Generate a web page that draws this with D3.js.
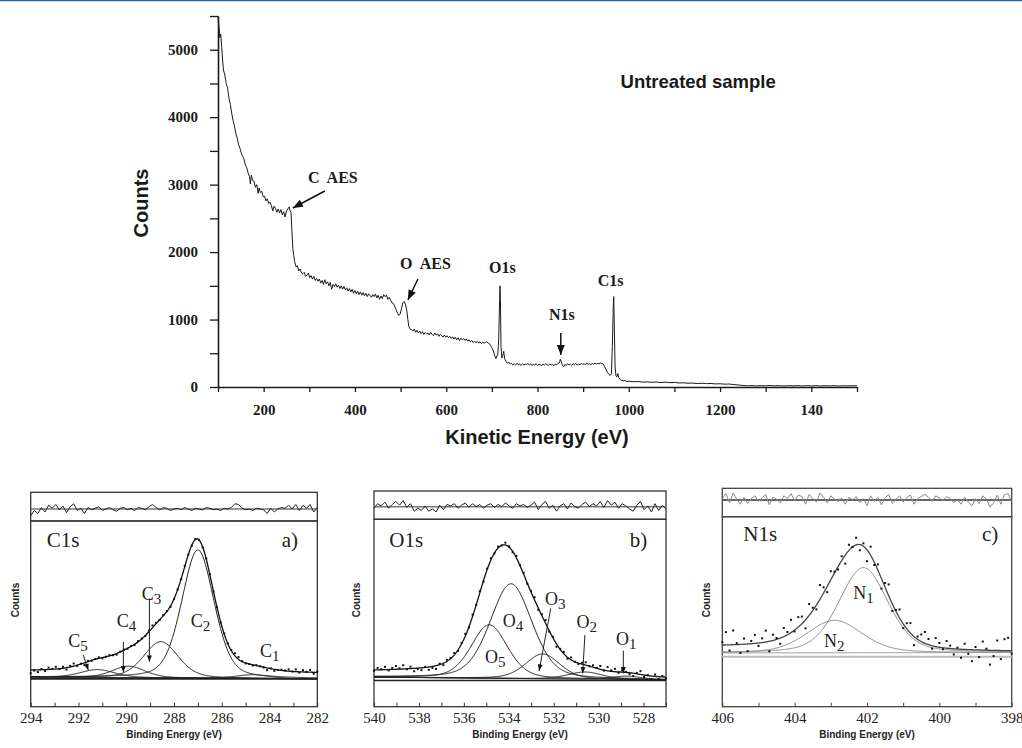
<!DOCTYPE html>
<html>
<head>
<meta charset="utf-8">
<script src="https://cdn.jsdelivr.net/npm/d3@7"></script>
<style>
  body { margin: 0; background: #fff; }
  svg { display: block; }
</style>
</head>
<body>
<svg id="chart" width="1022" height="748"></svg>
<script>
// ---- survey spectrum (kinetic energy, counts) ----
const surveyPoints = [
  [100,5500],[102,5350],[104,5180],[106,5230],[108,5050],[110,4850],[112,4700],[115,4620],[118,4500],[121,4430],
  [124,4280],[127,4190],[130,4060],[133,3950],[136,3870],[139,3760],[142,3690],[145,3600],[148,3540],[151,3470],
  [154,3420],[157,3380],[160,3290],[163,3250],[166,3170],[169,3120],[171,3010],[173,3140],[176,3060],[179,3050],
  [182,2960],[185,3000],[188,2870],[190,2950],[193,2880],[196,2900],[199,2820],[202,2830],[205,2760],[208,2790],
  [211,2720],[214,2740],[217,2690],[220,2610],[223,2680],[226,2650],[229,2590],[232,2640],[235,2580],[238,2630],
  [241,2550],[244,2600],[247,2520],[250,2610],[253,2640],[256,2670],[258,2610],[260,2590],[262,2300],[264,2050],
  [266,1950],[268,1860],[271,1780],[274,1800],[277,1720],[280,1750],[283,1690],[286,1680],[289,1700],[292,1640],
  [295,1660],[298,1690],[301,1620],[304,1650],[307,1600],[310,1640],[313,1580],[316,1610],[319,1570],[322,1600],
  [325,1540],[328,1580],[331,1520],[334,1590],[337,1530],[340,1560],[343,1500],[346,1550],[349,1450],[352,1520],
  [355,1490],[358,1530],[361,1480],[364,1510],[367,1460],[370,1500],[373,1450],[376,1490],[379,1440],[382,1470],
  [385,1420],[388,1460],[391,1410],[394,1450],[397,1390],[400,1430],[403,1380],[406,1420],[409,1370],[412,1410],
  [415,1360],[418,1400],[421,1350],[424,1390],[427,1340],[430,1380],[433,1360],[436,1330],[439,1370],[442,1340],
  [445,1380],[448,1320],[451,1360],[454,1300],[457,1350],[460,1310],[463,1370],[466,1340],[469,1360],[472,1300],
  [475,1330],[478,1290],[481,1250],[484,1240],[487,1200],[490,1150],[493,1100],[496,1060],[499,1080],[502,1160],
  [505,1250],[508,1270],[511,1220],[514,1120],[516,1000],[518,900],[521,860],[524,850],[527,830],[530,860],
  [533,810],[536,840],[539,800],[542,830],[545,790],[548,820],[551,780],[554,810],[557,790],[560,800],
  [563,770],[566,810],[569,780],[572,760],[575,800],[578,770],[581,790],[584,750],[587,780],[590,760],
  [593,740],[596,770],[599,740],[602,760],[605,730],[608,750],[611,720],[614,745],[617,710],[620,740],
  [623,700],[626,730],[629,690],[632,725],[635,700],[638,720],[641,690],[644,710],[647,680],[650,700],
  [653,670],[656,690],[659,660],[662,680],[665,655],[668,675],[671,650],[674,670],[677,645],[680,665],
  [683,650],[686,660],[689,670],[692,650],[695,640],[698,610],[701,570],[704,520],[707,450],[709,420],
  [711,460],[713,480],[715,700],[717,1300],[718,1500],[719,1200],[720,600],[722,430],[724,470],[726,530],
  [728,420],[731,380],[734,350],[737,370],[740,340],[743,350],[746,330],[749,345],[752,325],[755,350],
  [758,330],[761,340],[764,320],[767,345],[770,325],[773,340],[776,330],[779,350],[782,325],[785,340],
  [788,320],[791,335],[794,325],[797,345],[800,320],[803,340],[806,330],[809,315],[812,340],[815,325],
  [818,345],[821,330],[824,320],[827,340],[830,325],[833,335],[836,315],[839,340],[842,330],[845,350],
  [848,360],[850,410],[852,380],[854,330],[857,300],[860,335],[863,320],[866,345],[869,325],[872,340],
  [875,320],[878,345],[881,330],[884,350],[887,325],[890,340],[893,330],[896,350],[899,335],[902,345],
  [905,330],[908,355],[911,335],[914,345],[917,330],[920,350],[923,340],[926,355],[929,340],[932,350],
  [935,345],[938,355],[941,350],[944,340],[947,300],[950,260],[953,220],[956,190],[959,170],[962,200],
  [964,600],[966,1200],[967,1340],[968,1000],[970,300],[972,160],[974,150],[976,200],[978,140],[981,110],
  [984,100],[988,90],[992,95],[996,80],[1000,85],[1010,78],[1020,82],[1030,72],[1040,76],[1050,70],
  [1060,74],[1070,66],[1080,72],[1090,64],[1100,68],[1110,60],[1120,62],[1130,56],[1140,58],[1150,52],
  [1160,55],[1170,50],[1180,52],[1190,46],[1200,48],[1210,42],[1220,44],[1230,36],[1240,30],[1250,22],
  [1260,18],[1270,20],[1280,16],[1290,20],[1300,18],[1310,22],[1320,16],[1330,20],[1340,15],[1350,20],
  [1360,17],[1370,21],[1380,15],[1390,19],[1400,16],[1410,20],[1420,15],[1430,19],[1440,16],[1450,20],
  [1460,15],[1470,18],[1480,16],[1490,19],[1500,17]
];
const surveyXTicks = [100,200,300,400,500,600,700,800,900,1000,1100,1200,1300,1400,1500];
const surveyXLabels = {200:"200",400:"400",600:"600",800:"800",1000:"1000",1200:"1200",1400:"140"};
const surveyYTicks = [0,500,1000,1500,2000,2500,3000,3500,4000,4500,5000,5500];
const surveyYLabels = [0,1000,2000,3000,4000,5000];
// annotation text, anchor [energy, counts]
const surveyNotes = [
  {text: "C  AES", at: [297, 3017]},
  {text: "O  AES", at: [499, 1749]},
  {text: "O1s", at: [694, 1683]},
  {text: "N1s", at: [825, 993]},
  {text: "C1s", at: [932, 1497]}
];
const surveyArrows = [
  [[334, 2906], [264, 2654]],
  [[538, 1601], [516, 1290]],
  [[851, 800], [851, 474]]
];

// ---- C1s fit (binding energy) ----
const c1sNames = ["1", "2", "3", "4", "5"];
const c1sCenters = [284.7, 287.0, 288.55, 289.9, 291.2];
const c1sHeights = [20, 690, 195, 62, 42];
const c1sFwhm = [1.6, 1.6, 1.7, 1.6, 1.7];
const c1sResidual = [-0.45,-0.1,-0.3,0.1,-0.2,0.25,0.05,0.3,-0.05,0.2,-0.25,0.15,0.35,-0.1,0.05,-0.3,0.1,-0.05,0.05,0.15,
  -0.1,0.0,0.1,-0.05,-0.15,0.05,0.1,-0.05,0.05,-0.1,0.1,0.05,-0.05,0.15,0.3,0.1,-0.05,0.1,0.05,-0.1,
  0.0,0.05,-0.05,0.1,0.0,-0.1,0.05,0.0,-0.05,0.1,0.05,-0.05,0.0,-0.1,0.05,0.0,0.1,0.35,0.3,0.05,
  -0.05,0.0,-0.1,0.05,0.0,-0.05,-0.3,0.05,-0.2,0.0,0.1,0.05,0.25,0.0,0.3,-0.1,0.25,0.05,0.3,-0.2,0.1];

// ---- O1s fit ----
const o1sNames = ["1", "2", "3", "4", "5"];
const o1sCenters = [528.75, 530.6, 532.49, 533.9, 534.87];
const o1sHeights = [18, 38, 132, 505, 285];
const o1sFwhm = [1.6, 1.8, 1.8, 2.2, 1.9];
const o1sResidual = [-0.1,0.2,0.05,0.3,-0.1,0.15,0.35,0.1,0.4,-0.05,0.2,-0.3,-0.1,-0.25,0.05,-0.3,-0.15,-0.35,0.1,-0.2,
  0.15,0.05,0.2,-0.1,0.1,0.25,-0.05,0.2,0.0,0.15,-0.1,0.1,0.2,-0.05,0.15,0.0,0.25,0.05,-0.1,0.2,
  0.05,0.15,-0.05,0.1,0.3,-0.2,0.15,0.35,-0.1,0.1,-0.3,0.05,0.2,-0.15,0.25,0.0,-0.1,0.15,0.3,0.0,
  0.2,0.05,0.35,-0.05,0.4,0.1,0.3,-0.1,0.2,0.05,-0.15,-0.3,0.1,0.35,-0.2,0.05,-0.35,0.2,-0.25,0.1,-0.15];

// ---- N1s fit ----
const n1sNames = ["1", "2"];
const n1sCenters = [402.1, 402.9];
const n1sHeights = [448, 171];
const n1sFwhm = [1.6, 1.8];
const n1sResidual = [0.1,0.45,-0.2,0.5,0.05,-0.3,0.2,-0.25,0.1,0.3,-0.1,0.15,0.4,-0.35,0.2,0.05,-0.2,0.3,0.1,0.45,
  -0.05,0.35,0.25,-0.3,0.4,0.1,-0.15,0.5,0.2,-0.2,0.3,0.05,-0.1,0.15,-0.3,0.2,0.0,0.25,-0.2,0.1,
  -0.4,0.3,-0.1,0.2,-0.35,0.15,0.4,-0.25,0.05,0.3,-0.15,0.2,0.35,-0.3,0.1,0.25,0.4,0.2,-0.1,0.3,
  0.15,-0.05,0.25,0.1,-0.2,0.05,-0.3,0.2,-0.15,-0.4,0.1,-0.25,0.3,0.05,-0.5,-0.2,0.35,-0.3,0.4,0.45,-0.1];

const SERIF = '"Liberation Serif", "Times New Roman", serif';
const SANS = '"Liberation Sans", Arial, sans-serif';

const svg = d3.select("#chart");
const defs = svg.append("defs");

function addMarker(id, w, h, color) {
  defs.append("marker").attr("id", id)
    .attr("viewBox", "0 0 10 8").attr("refX", 10).attr("refY", 4)
    .attr("markerWidth", w).attr("markerHeight", h)
    .attr("markerUnits", "userSpaceOnUse").attr("orient", "auto")
    .append("path").attr("d", "M0,0L10,4L0,8Z").attr("fill", color);
}
addMarker("arrowBig", 11, 8, "#111");
addMarker("arrowSmall", 7, 5, "#111");

// thin blue rule at the very top
svg.append("line").attr("x1", 0).attr("x2", 1022).attr("y1", 0.5).attr("y2", 0.5)
  .attr("stroke", "#2a62a8").attr("stroke-width", 1.5);

// ================= survey =================
const sx = d3.scaleLinear().domain([100, 1500]).range([218, 857]);
const sy = d3.scaleLinear().domain([0, 5500]).range([387, 16]);

const survey = svg.append("g");

survey.append("path")
  .datum(surveyPoints)
  .attr("fill", "none").attr("stroke", "#1a1a1a").attr("stroke-width", 1)
  .attr("stroke-linejoin", "round")
  .attr("d", d3.line().x(d => sx(d[0])).y(d => sy(d[1])));

const sxAxis = survey.append("g").attr("transform", "translate(0,387)")
  .call(d3.axisBottom(sx).tickValues(surveyXTicks).tickSize(5).tickSizeOuter(0).tickPadding(12)
    .tickFormat(d => surveyXLabels[d] || ""));
const syAxis = survey.append("g").attr("transform", "translate(218,0)")
  .call(d3.axisLeft(sy).tickValues(surveyYTicks).tickSize(8).tickSizeOuter(0).tickPadding(12)
    .tickFormat(d => surveyYLabels.includes(d) ? d : ""));
[sxAxis, syAxis].forEach(a => {
  a.select(".domain").attr("stroke", "#1a1a1a").attr("stroke-width", 1.6);
  a.selectAll(".tick line").attr("stroke", "#1a1a1a").attr("stroke-width", 1.3);
  a.selectAll(".tick text").attr("font-family", SERIF).attr("font-weight", "bold")
    .attr("font-size", 15).attr("fill", "#1a1a1a");
});

survey.append("text").attr("transform", "translate(148,203) rotate(-90)")
  .attr("text-anchor", "middle").attr("font-family", SANS).attr("font-weight", "bold")
  .attr("font-size", 20).attr("fill", "#1a1a1a").text("Counts");
survey.append("text").attr("x", 537).attr("y", 444)
  .attr("text-anchor", "middle").attr("font-family", SANS).attr("font-weight", "bold")
  .attr("font-size", 20).attr("fill", "#1a1a1a").text("Kinetic Energy (eV)");
survey.append("text").attr("x", sx(1152)).attr("y", sy(4432))
  .attr("text-anchor", "middle").attr("font-family", SANS).attr("font-weight", "bold")
  .attr("font-size", 18.5).attr("fill", "#1a1a1a").text("Untreated sample");

survey.selectAll("text.note").data(surveyNotes).join("text")
  .attr("class", "note")
  .attr("x", d => sx(d.at[0])).attr("y", d => sy(d.at[1]))
  .attr("font-family", SERIF).attr("font-weight", "bold").attr("font-size", 16)
  .attr("fill", "#1a1a1a").style("white-space", "pre").text(d => d.text);

survey.selectAll("line.arrow").data(surveyArrows).join("line")
  .attr("class", "arrow")
  .attr("x1", d => sx(d[0][0])).attr("y1", d => sy(d[0][1]))
  .attr("x2", d => sx(d[1][0])).attr("y2", d => sy(d[1][1]))
  .attr("stroke", "#111").attr("stroke-width", 1.5).attr("marker-end", "url(#arrowBig)");

// ================= fitted core-level panels =================
function gl(e, c, h, w, m) {
  const d = e - c;
  return h * ((1 - m) * Math.exp(-4 * Math.LN2 * d * d / (w * w)) + m / (1 + 4 * d * d / (w * w)));
}

function drawPanel(cfg) {
  const g = svg.append("g");
  const x = d3.scaleLinear().domain(cfg.xDomain).range([cfg.left, cfg.right]);
  const y = d3.scaleLinear().domain(cfg.yDomain).range([cfg.bottom, cfg.mid]);
  const ry = d3.scaleLinear().domain([0, 1]).range([cfg.resZero, cfg.resZero - cfg.resUnit]);
  const hi = cfg.xDomain[0], lo = cfg.xDomain[1];

  const peakAt = (e, i) => gl(e, cfg.centers[i], cfg.heights[i], cfg.fwhm[i], cfg.mix);
  const sumAt = e => d3.sum(cfg.centers, (c, i) => peakAt(e, i));

  // Shirley-type background from cumulative peak area
  const fine = d3.range(0, 401).map(i => lo + (hi - lo) * i / 400);
  const cum = [];
  let acc = 0;
  fine.forEach((e, i) => {
    if (i) acc += (sumAt(e) + sumAt(fine[i - 1])) / 2;
    cum.push(acc);
  });
  const cumScale = d3.scaleLinear().domain(fine).range(cum);
  const bgAt = e => cfg.bgLow + (cfg.bgHigh - cfg.bgLow) * cumScale(e) / acc;
  const baseAt = d3.scaleLinear().domain([hi, lo]).range([cfg.baseHigh, cfg.baseLow]);
  const envAt = e => bgAt(e) + sumAt(e);

  // frames
  g.append("rect").attr("x", cfg.left).attr("y", cfg.top)
    .attr("width", cfg.right - cfg.left).attr("height", cfg.mid - cfg.top)
    .attr("fill", "none").attr("stroke", cfg.frame).attr("stroke-width", 1.3);
  g.append("rect").attr("x", cfg.left).attr("y", cfg.mid)
    .attr("width", cfg.right - cfg.left).attr("height", cfg.bottom - cfg.mid)
    .attr("fill", "none").attr("stroke", cfg.frame).attr("stroke-width", 1.3);

  // residuals
  const n = cfg.residual.length;
  const resE = cfg.residual.map((r, i) => hi - (hi - lo) * i / (n - 1));
  g.append("line").attr("x1", cfg.left).attr("x2", cfg.right)
    .attr("y1", cfg.resZero).attr("y2", cfg.resZero)
    .attr("stroke", cfg.resZeroColor).attr("stroke-width", 1.5);
  g.append("path").datum(cfg.residual)
    .attr("fill", "none").attr("stroke", cfg.resColor).attr("stroke-width", 1)
    .attr("d", d3.line().x((r, i) => x(resE[i])).y(r => ry(r)));

  // zero line of the fit
  g.append("line").attr("x1", cfg.left).attr("x2", cfg.right)
    .attr("y1", y(0)).attr("y2", y(0))
    .attr("stroke", cfg.zeroColor).attr("stroke-width", cfg.zeroWidth);
  g.append("path").datum(fine)
    .attr("fill", "none").attr("stroke", cfg.compColor).attr("stroke-width", 0.9)
    .attr("d", d3.line().x(e => x(e)).y(e => y(baseAt(e))));

  // components
  g.selectAll("path.comp").data(cfg.centers).join("path")
    .attr("class", "comp")
    .attr("fill", "none").attr("stroke", cfg.compColor).attr("stroke-width", 1)
    .attr("d", (c, i) => d3.line().x(e => x(e)).y(e => y(baseAt(e) + peakAt(e, i)))(fine));

  // envelope
  g.append("path").datum(fine)
    .attr("fill", "none").attr("stroke", cfg.envColor).attr("stroke-width", 1.3)
    .attr("d", d3.line().x(e => x(e)).y(e => y(envAt(e))));

  // measured points
  g.selectAll("rect.pt").data(cfg.residual).join("rect")
    .attr("class", "pt")
    .attr("x", (r, i) => x(resE[i]) - 1).attr("y", (r, i) => y(envAt(resE[i]) + r * cfg.dotScale) - 1)
    .attr("width", 2).attr("height", 2).attr("fill", "#111");

  // axis
  const ax = g.append("g").attr("transform", `translate(0,${cfg.bottom})`)
    .call(d3.axisBottom(x).tickValues(d3.range(lo, hi + 1, 1)).tickSize(-4).tickSizeOuter(0).tickPadding(6)
      .tickFormat(d => d % 2 === 0 ? d : ""));
  ax.select(".domain").remove();
  ax.selectAll(".tick line").attr("stroke", cfg.frame).attr("stroke-width", 1);
  ax.selectAll(".tick text").attr("font-family", SERIF).attr("font-size", 15).attr("fill", "#222");

  g.append("text").attr("x", (cfg.left + cfg.right) / 2).attr("y", 738)
    .attr("text-anchor", "middle").attr("font-family", SANS).attr("font-weight", "bold")
    .attr("font-size", 10).attr("fill", "#222").text("Binding Energy (eV)");
  g.append("text").attr("transform", `translate(${cfg.countsX},600) rotate(-90)`)
    .attr("text-anchor", "middle").attr("font-family", SANS).attr("font-weight", "bold")
    .attr("font-size", 10).attr("fill", "#222").text("Counts");

  g.append("text").attr("x", x(cfg.title.at[0])).attr("y", y(cfg.title.at[1]))
    .attr("font-family", SERIF).attr("font-size", 21).attr("fill", "#222").text(cfg.title.text);
  g.append("text").attr("x", x(cfg.tag.at[0])).attr("y", y(cfg.tag.at[1]))
    .attr("text-anchor", "end").attr("font-family", SERIF).attr("font-size", 21)
    .attr("fill", "#222").text(cfg.tag.text);

  // peak labels with subscripts
  cfg.labels.forEach((lab, i) => {
    const t = g.append("text").attr("x", x(lab[0])).attr("y", y(lab[1]))
      .attr("font-family", SERIF).attr("font-size", 18).attr("fill", "#222");
    t.append("tspan").text(cfg.letter);
    t.append("tspan").attr("dy", 4).attr("font-size", 15).text(cfg.names[i]);
  });
  g.selectAll("line.arr").data(cfg.arrows).join("line")
    .attr("class", "arr")
    .attr("x1", d => x(d[0][0])).attr("y1", d => y(d[0][1]))
    .attr("x2", d => x(d[1][0])).attr("y2", d => y(d[1][1]))
    .attr("stroke", "#222").attr("stroke-width", 1).attr("marker-end", "url(#arrowSmall)");
}

drawPanel({
  xDomain: [294, 282], yDomain: [-150, 850],
  left: 30.7, right: 317.3, top: 492.3, mid: 521, bottom: 706.7, resZero: 509, resUnit: 15, countsX: 19,
  centers: c1sCenters, heights: c1sHeights, fwhm: c1sFwhm, names: c1sNames, residual: c1sResidual,
  mix: 0.3, bgHigh: 42, bgLow: 28, baseHigh: 10, baseLow: 0, dotScale: 40,
  frame: "#333", envColor: "#111", compColor: "#222", resColor: "#222", resZeroColor: "#777",
  zeroColor: "#222", zeroWidth: 1.6,
  letter: "C",
  title: {text: "C1s", at: [293.33, 710]}, tag: {text: "a)", at: [282.81, 710]},
  labels: [[284.40, 119], [287.30, 281], [289.35, 424], [290.40, 281], [292.43, 173]],
  arrows: [[[290.12, 200], [290.12, 35]], [[289.03, 433], [289.03, 92]], [[291.80, 128], [291.59, 47]]]
});

drawPanel({
  xDomain: [540, 527], yDomain: [-140, 860],
  left: 374, right: 666, top: 491, mid: 519.3, bottom: 706.7, resZero: 506.7, resUnit: 15, countsX: 360,
  centers: o1sCenters, heights: o1sHeights, fwhm: o1sFwhm, names: o1sNames, residual: o1sResidual,
  mix: 0.3, bgHigh: 48, bgLow: 10, baseHigh: 18, baseLow: 3, dotScale: 50,
  frame: "#333", envColor: "#111", compColor: "#222", resColor: "#222", resZeroColor: "#777",
  zeroColor: "#222", zeroWidth: 1.6,
  letter: "O",
  title: {text: "O1s", at: [539.32, 712]}, tag: {text: "b)", at: [527.83, 712]},
  labels: [[529.23, 189], [530.98, 278], [532.39, 403], [534.27, 287], [535.06, 92]],
  arrows: [[[528.90, 159], [528.90, 38]], [[530.61, 243], [530.71, 38]], [[532.13, 385], [532.65, 52]]]
});

drawPanel({
  xDomain: [406, 398], yDomain: [-263, 737],
  left: 722.3, right: 1011.7, top: 488.3, mid: 516.7, bottom: 706.7, resZero: 500, resUnit: 14, countsX: 710,
  centers: n1sCenters, heights: n1sHeights, fwhm: n1sFwhm, names: n1sNames, residual: n1sResidual,
  mix: 0.3, bgHigh: 52, bgLow: 25, baseHigh: 20, baseLow: 22, dotScale: 150,
  frame: "#444", envColor: "#444", compColor: "#888", resColor: "#888", resZeroColor: "#333",
  zeroColor: "#bbb", zeroWidth: 2,
  letter: "N",
  title: {text: "N1s", at: [405.42, 609]}, tag: {text: "c)", at: [398.37, 609]},
  labels: [[402.38, 302], [403.19, 53]],
  arrows: []
});
</script>
</body>
</html>
